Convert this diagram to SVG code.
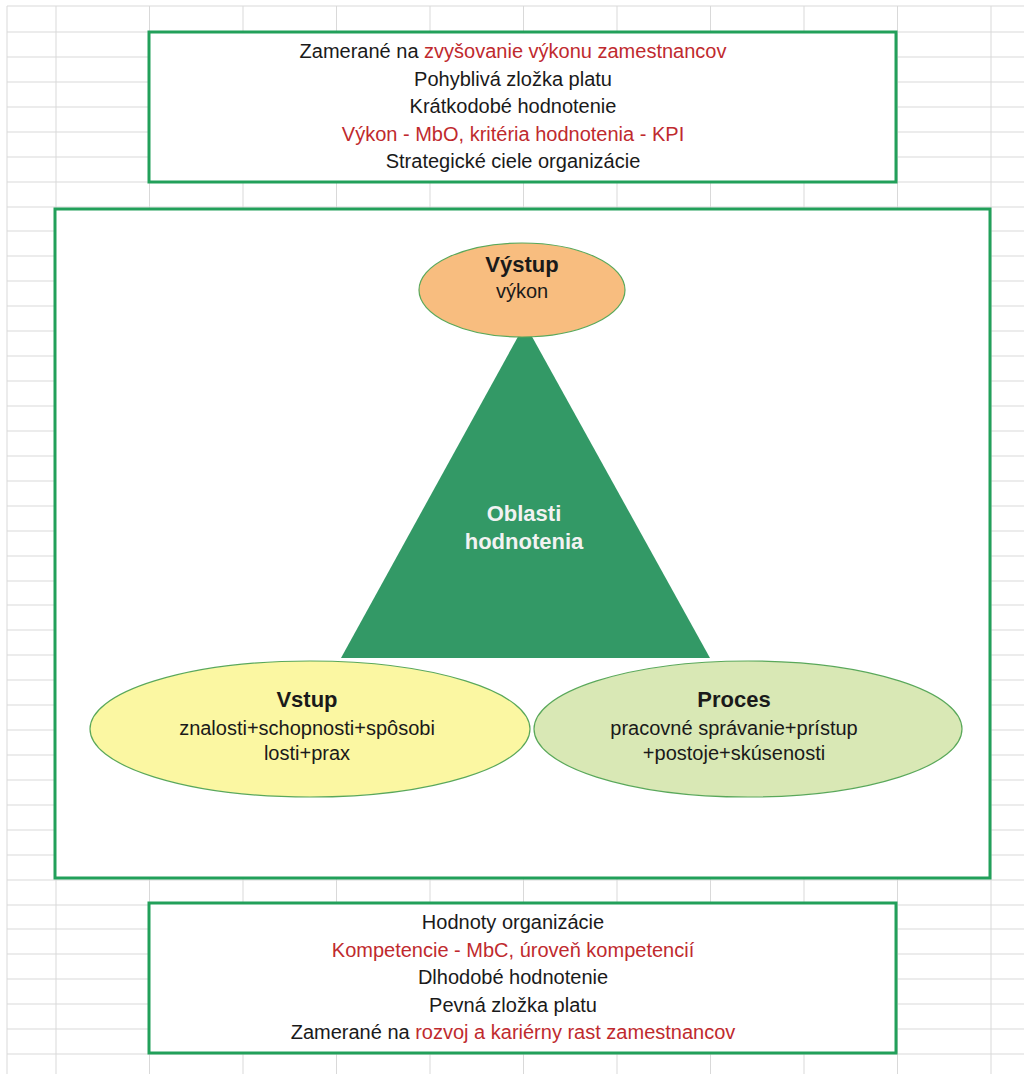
<svg xmlns="http://www.w3.org/2000/svg" width="1024" height="1074" viewBox="0 0 1024 1074">
<style>
.grid{stroke:#d9d9d9;stroke-width:1;fill:none}
.box{fill:#ffffff;stroke:#22a05a;stroke-width:3}
.ell{stroke:#5aa85a;stroke-width:1.2}
text{font-family:"Liberation Sans",Arial,sans-serif;text-anchor:middle;fill:#1a1a1a}
.t{font-size:20px}
.b{font-size:22px;font-weight:bold}
.red{fill:#bf2a2e}
.w{fill:#f2f2f2}
</style>
<rect width="1024" height="1074" fill="#ffffff"/>
<g id="grid" class="grid">
<path d="M7 6V1074M56 6V1074M149.5 6V1074M243 6V1074M336.5 6V1074M430 6V1074M523.5 6V1074M617 6V1074M710.5 6V1074M804 6V1074M897.5 6V1074M991 6V1074"/>
<path d="M7 6H1024M7 32H1024M7 57H1024M7 82H1024M7 107H1024M7 132H1024M7 157H1024M7 182H1024M7 207H1024M7 231H1024M7 256H1024M7 281H1024M7 306H1024M7 331H1024M7 356H1024M7 381H1024M7 406H1024M7 431H1024M7 456H1024M7 481H1024M7 506H1024M7 531H1024M7 556H1024M7 581H1024M7 605H1024M7 630H1024M7 655H1024M7 680H1024M7 705H1024M7 730H1024M7 755H1024M7 780H1024M7 805H1024M7 830H1024M7 855H1024M7 880H1024M7 905H1024M7 929H1024M7 954H1024M7 979H1024M7 1004H1024M7 1029H1024M7 1054H1024"/>
</g>
<g id="connectors"/>
<g id="top-box">
<rect class="box" x="149" y="32" width="747" height="150"/>
<text class="t" x="513" y="58">Zamerané na <tspan class="red">zvyšovanie výkonu zamestnancov</tspan></text>
<text class="t" x="513" y="86">Pohyblivá zložka platu</text>
<text class="t" x="513" y="113">Krátkodobé hodnotenie</text>
<text class="t red" x="513" y="141">Výkon - MbO, kritéria hodnotenia - KPI</text>
<text class="t" x="513" y="168">Strategické ciele organizácie</text>
</g>
<g id="main-box">
<rect class="box" x="55" y="209" width="935" height="669"/>
</g>
<g id="triangle">
<polygon points="525,324 341,658 710,658" fill="#339966"/>
<text class="b w" x="524" y="521">Oblasti</text>
<text class="b w" x="524" y="549">hodnotenia</text>
</g>
<g id="vystup">
<ellipse class="ell" cx="522" cy="290" rx="103" ry="47" fill="#f8bd7f"/>
<text class="b" x="522" y="272">Výstup</text>
<text class="t" x="522" y="298">výkon</text>
</g>
<g id="vstup">
<ellipse class="ell" cx="310" cy="729" rx="220" ry="68" fill="#fbf7a2"/>
<text class="b" x="307" y="707">Vstup</text>
<text class="t" x="307" y="735">znalosti+schopnosti+spôsobi</text>
<text class="t" x="307" y="760">losti+prax</text>
</g>
<g id="proces">
<ellipse class="ell" cx="748" cy="729" rx="214" ry="68" fill="#d9e8b5"/>
<text class="b" x="734" y="707">Proces</text>
<text class="t" x="734" y="735">pracovné správanie+prístup</text>
<text class="t" x="734" y="760">+postoje+skúsenosti</text>
</g>
<g id="bottom-box">
<rect class="box" x="149" y="903" width="747" height="150"/>
<text class="t" x="513" y="929">Hodnoty organizácie</text>
<text class="t red" x="513" y="957">Kompetencie - MbC, úroveň kompetencií</text>
<text class="t" x="513" y="984">Dlhodobé hodnotenie</text>
<text class="t" x="513" y="1012">Pevná zložka platu</text>
<text class="t" x="513" y="1039"><tspan>Zamerané na </tspan><tspan class="red">rozvoj a kariérny rast zamestnancov</tspan></text>
</g>
</svg>
